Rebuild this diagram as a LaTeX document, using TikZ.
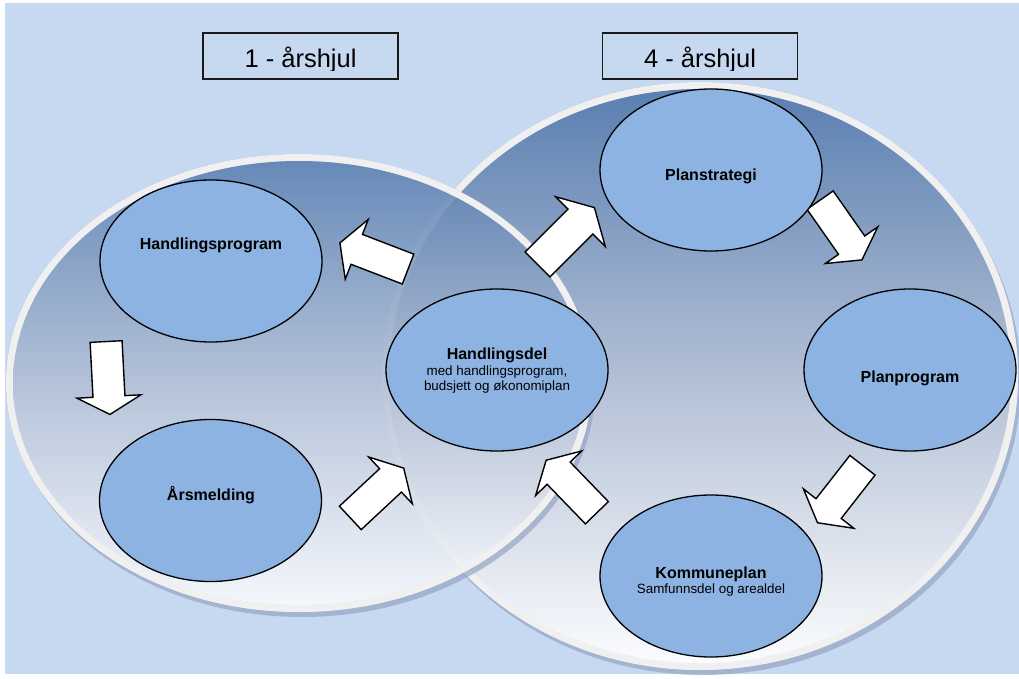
\documentclass[tikz,border=0pt]{standalone}
\usepackage{fontspec}
\setmainfont{Liberation Sans}
\usetikzlibrary{shapes.geometric}
\definecolor{bgblue}{RGB}{198,217,241}
\definecolor{nodeblue}{RGB}{141,179,226}
\definecolor{rimgray}{RGB}{240,240,240}
\definecolor{shadowc}{RGB}{150,165,195}
\definecolor{topc}{RGB}{90,127,177}
\definecolor{midc}{RGB}{178,191,213}
\definecolor{botc}{RGB}{251,252,254}
\tikzset{
  stage/.style={ellipse, draw=black, line width=1.3pt, fill=nodeblue, inner sep=0pt,
                minimum width=222pt, minimum height=162pt},
  ttl/.style={font=\fontsize{16}{18}\selectfont\bfseries, anchor=base, inner sep=0pt},
  subt/.style={font=\fontsize{13.4}{15}\selectfont, anchor=base, inner sep=0pt},
  headbox/.style={draw=black!90, line width=1.5pt, fill=bgblue, minimum width=195pt,
                  minimum height=46pt, inner sep=0pt},
  headtxt/.style={font=\fontsize{25.5}{28}\selectfont, anchor=base, inner sep=0pt},
  blockarrow/.pic={\draw[fill=white, draw=black, line width=1.4pt, line join=miter]
     (-36.5,-16) -- (18.5,-16) -- (18.5,-32) -- (36.5,0) -- (18.5,32) -- (18.5,16) -- (-36.5,16) -- cycle;}
}
\begin{document}
\begin{tikzpicture}[x=1pt,y=-1pt]
\useasboundingbox (0,0) rectangle (1019,679);
\fill[white] (0,0) rectangle (1019,679);
\fill[bgblue] (5,3) rectangle (1019,674);

% right big ellipse (4 - årshjul)
\fill[shadowc, opacity=0.7, even odd rule] (703,381) ellipse [x radius=318, y radius=294]
      (700,376) ellipse [x radius=318, y radius=294];
\fill[rimgray] (700,376) ellipse [x radius=318, y radius=294];
\shade[top color=topc, bottom color=botc, middle color=midc]
      (700,376) ellipse [x radius=311, y radius=287];

% left big ellipse (1 - årshjul)
\fill[shadowc, opacity=0.7, even odd rule] (302,388) ellipse [x radius=293, y radius=229]
      (299,383) ellipse [x radius=293, y radius=229];
\fill[rimgray, even odd rule] (299,383) ellipse [x radius=293, y radius=229]
      (299,383) ellipse [x radius=286, y radius=222];
\shade[top color=topc, bottom color=botc, middle color=midc, fill opacity=0.88]
      (299,383) ellipse [x radius=286, y radius=222];

% title boxes
\node[headbox] (box1) at (300.5,56) {};
\node[headbox] (box4) at (700,56) {};
\begin{scope}
\clip (205,35) rectangle (795,71);
\node[headtxt] (box1t) at (300.5,68) {1 - årshjul};
\node[headtxt] (box4t) at (700,68) {4 - årshjul};
\end{scope}

% block arrows
\pic[rotate=159] at (374,256) {blockarrow};
\pic[rotate=45, scale=1.1] at (566,236) {blockarrow};
\pic[rotate=-55] at (841,230) {blockarrow};
\pic[rotate=-128] at (840,494) {blockarrow};
\pic[rotate=134] at (571.5,486.5) {blockarrow};
\pic[rotate=43] at (377,493) {blockarrow};
\pic[rotate=-87] at (108,378) {blockarrow};

% stage ellipses
\node[stage] (hp) at (211,261) {};
\node[stage] (ars) at (210.5,500.5) {};
\node[stage] (hd) at (497,370) {};
\node[stage] (ps) at (711,170) {};
\node[stage, minimum width=212pt] (pp) at (910,370) {};
\node[stage] (kp) at (711,576) {};

% texts
\node[ttl] (hpt) at (211,249.5) {Handlingsprogram};
\node[ttl] (arst) at (211,500) {Årsmelding};
\node[ttl] (hdt) at (497,359) {Handlingsdel};
\node[subt] (hds1) at (497,375) {med handlingsprogram,};
\node[subt] (hds2) at (497,390) {budsjett og økonomiplan};
\node[ttl] (pst) at (711,180) {Planstrategi};
\node[ttl] (ppt) at (910,382) {Planprogram};
\node[ttl] (kpt) at (711,578.3) {Kommuneplan};
\node[subt] (kps) at (711,593.3) {Samfunnsdel og arealdel};
\end{tikzpicture}
\end{document}
